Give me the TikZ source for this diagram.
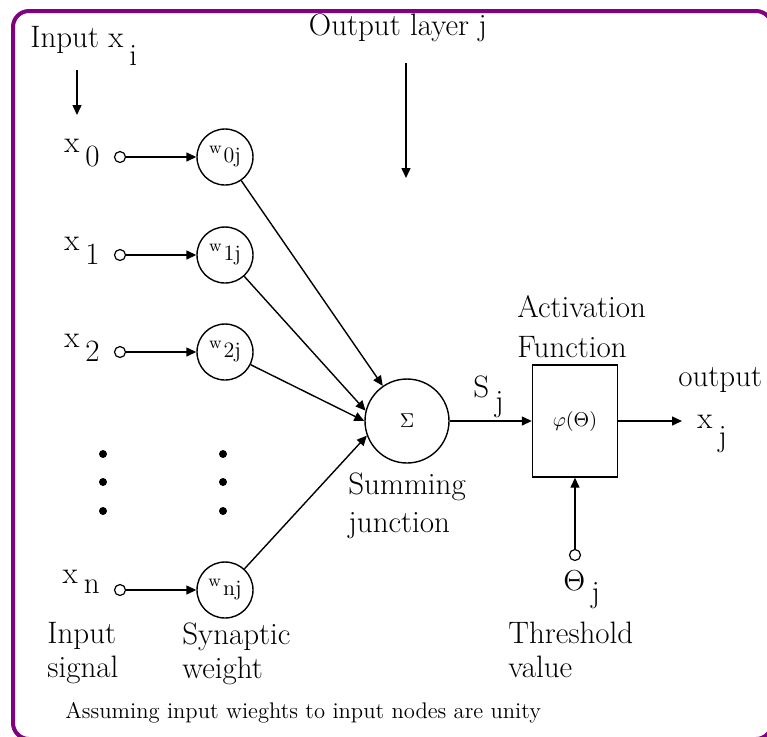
\documentclass[tikz,border=0pt]{standalone}
\usepackage{fontspec}
\usetikzlibrary{arrows.meta,positioning}
\definecolor{Frame}{HTML}{800080}
\newcommand{\lblsub}[3][7pt]{#2\hspace{3pt}\raisebox{-#1}{#3}}
\newcommand{\wlbl}[1]{{\fontsize{8.5}{8.5}\selectfont w}\hspace{1pt}\raisebox{-4.5pt}{\fontsize{11}{11}\selectfont #1}}
\tikzset{
  lbl/.style={font=\fontsize{15.5}{17}\selectfont, inner sep=0pt},
  caption/.style={lbl, align=left},
  weight/.style={circle, draw, line width=0.7pt, minimum size=28pt, inner sep=0pt},
  port/.style={circle, draw, line width=0.6pt, minimum size=5.5pt, inner sep=0pt},
  sumnode/.style={circle, draw, line width=0.7pt, minimum size=42pt, inner sep=0pt},
  actbox/.style={draw, line width=0.7pt, minimum width=42.5pt, minimum height=56pt,
    inner sep=0pt},
  vdot/.style={circle, fill, minimum size=4pt, inner sep=0pt},
  flow/.style={-{Triangle[length=5pt,width=4.5pt]}, line width=0.7pt}
}

\begin{document}
\begin{tikzpicture}[x=0.5pt,y=-0.5pt]
  \useasboundingbox (0,0) rectangle (767,736);
  \draw[Frame, line width=2pt, rounded corners=8pt] (13,11) rectangle (772,739);

  % top labels
  \node[lbl,anchor=base west] (inlbl) at (30,47) {Input \lblsub[9pt]{x}{i}};
  \node[lbl,anchor=base] (outlayer) at (398,35) {Output layer j};
  \coordinate (intop) at (77,70);
  \coordinate (inbot) at (77,115);
  \coordinate (laytop) at (406,63);
  \coordinate (laybot) at (406,178);
  \draw[flow] (intop) -- (inbot);
  \draw[flow] (laytop) -- (laybot);

  % inputs and synaptic weights
  \node[port] (p0) at (120,157) {};
  \node[port] (p1) at (120,255) {};
  \node[port] (p2) at (120,352) {};
  \node[port] (pn) at (120,590) {};
  \node[weight] (w0) at (225,157) {\wlbl{0j}};
  \node[weight] (w1) at (225,255) {\wlbl{1j}};
  \node[weight] (w2) at (225,352) {\wlbl{2j}};
  \node[weight] (wn) at (225,590) {\wlbl{nj}};
  \node[lbl,anchor=base east] (x0) at (100,152) {\lblsub{x}{0}};
  \node[lbl,anchor=base east] (x1) at (100,250) {\lblsub{x}{1}};
  \node[lbl,anchor=base east] (x2) at (100,347) {\lblsub{x}{2}};
  \node[lbl,anchor=base east] (xn) at (100,583) {\lblsub[5pt]{x}{n}};
  \draw[flow] (p0) -- (w0);
  \draw[flow] (p1) -- (w1);
  \draw[flow] (p2) -- (w2);
  \draw[flow] (pn) -- (wn);

  \node[vdot] (da1) at (103,454) {};
  \node[vdot] (da2) at (103,482) {};
  \node[vdot] (da3) at (103,511) {};
  \node[vdot] (db1) at (223,454) {};
  \node[vdot] (db2) at (223,482) {};
  \node[vdot] (db3) at (223,511) {};

  % summing junction and activation
  \node[sumnode] (sum) at (407,421) {\fontsize{10}{10}\selectfont $\Sigma$};
  \node[actbox] (act) at (575,421) {\fontsize{10}{10}\selectfont $\varphi(\Theta)$};
  \draw[flow] (w0) -- (sum);
  \draw[flow] (w1) -- (sum.166);
  \draw[flow] (w2) -- (sum.180);
  \draw[flow] (wn) -- (sum.200);
  \draw[flow] (sum) -- (act);
  \coordinate (outend) at (682,421);
  \draw[flow] (act) -- (outend);
  \node[port] (th) at (575,555) {};
  \draw[flow] (th) -- (act);

  \node[lbl,anchor=base west] (sj) at (473,397) {\lblsub{S}{j}};
  \node[lbl,anchor=base west] (xj) at (697,428) {\lblsub[9pt]{x}{j}};
  \node[lbl,anchor=base west] (outtxt) at (678,386) {output};
  \node[lbl,anchor=base west] (thj) at (563,590) {\lblsub[6pt]{$\Theta$}{j}};
  \node[caption,anchor=north west] (actlbl) at (517,295) {Activation\\[3pt]Function};
  \node[caption,anchor=north west] (sumlbl) at (348,472) {Summing\\[2pt]junction};
  \node[caption,anchor=north west] (siglbl) at (47,622) {Input\\signal};
  \node[caption,anchor=north west] (synlbl) at (182,622) {Synaptic\\weight};
  \node[caption,anchor=north west] (thlbl) at (508,622) {Threshold\\value};
  \node[lbl,anchor=base west,font=\fontsize{11.3}{13}\selectfont] (note) at (65,718)
    {Assuming input wieghts to input nodes are unity};
\end{tikzpicture}
\end{document}
